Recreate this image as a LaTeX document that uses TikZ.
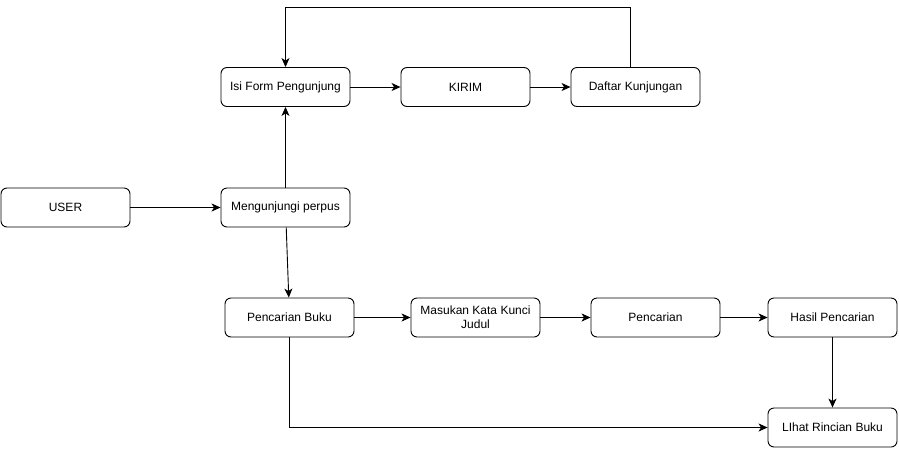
\documentclass[tikz,border=0pt]{standalone}
\usepackage{fontspec}
\setmainfont{Liberation Sans}
\usepackage{tikz}
\usetikzlibrary{arrows.meta}

\begin{document}
\begin{tikzpicture}[x=1pt, y=-1pt,
	box/.style={shape=rectangle, rounded corners=6pt, draw=black, line width=0.9pt, minimum width=129pt, minimum height=39pt, align=center, font=\fontsize{12}{14}\selectfont},
	>={Stealth[length=9pt, width=8pt, inset=2.5pt]}, line width=0.9pt]
			\useasboundingbox (0,0) rectangle (899,448);
			\node[box] (user) at (65.5,207.5) {USER};
			\node[box] (meng) at (285.5,207.5) {Mengunjungi perpus};
			\node[box] (isi) at (285.5,87) {Isi Form Pengunjung};
			\node[box] (kirim) at (465.5,87) {KIRIM};
			\node[box] (daftar) at (635.5,87) {Daftar Kunjungan};
			\node[box] (buku) at (289.5,317.5) {Pencarian Buku};
			\node[box] (kata) at (475.5,317.5) {Masukan Kata Kunci\\Judul};
			\node[box] (cari) at (655.5,317.5) {Pencarian};
			\node[box] (hasil) at (832.5,317.5) {Hasil Pencarian};
			\node[box] (lihat) at (832.5,427.5) {LIhat Rincian Buku};
			
			\path [->] (user) edge (meng);
			\path [->] (meng) edge (isi);
			\path [->] (meng) edge (buku);
			\path [->] (isi) edge (kirim);
			\path [->] (kirim) edge (daftar);
			\path [->] (buku) edge (kata);
			\path [->] (kata) edge (cari);
			\path [->] (cari) edge (hasil);
			\path [->] (hasil) edge (lihat);
			\draw [->] ([xshift=-5pt]daftar.north) -- ++(0,-60) -| (isi.north);
			\draw [->] (buku.south) |- (lihat.west);
		\end{tikzpicture}
\end{document}
